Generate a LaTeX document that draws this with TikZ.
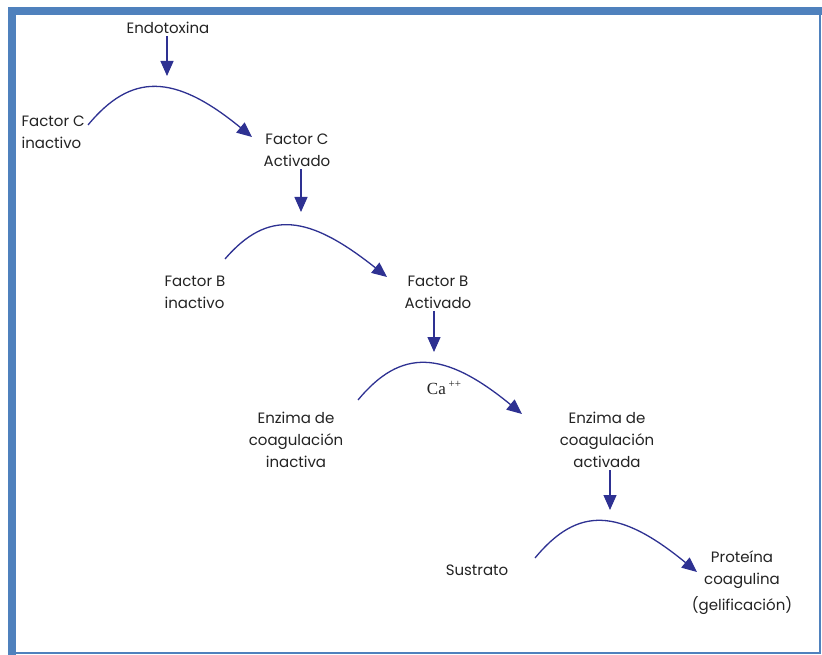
\documentclass[tikz,border=0pt]{standalone}
\usepackage{fontspec}
\usepackage{tikz}
\setmainfont{Poppins}
\newfontfamily\fuenteca{Liberation Serif}
\usetikzlibrary{arrows.meta}

\definecolor{azulmarco}{RGB}{79,129,189}
\definecolor{azulflecha}{RGB}{46,49,146}
\definecolor{texto}{RGB}{35,35,35}

\begin{document}
\begin{tikzpicture}[x=1pt,y=-1pt,>={Triangle[length=15pt,width=13pt]},
	line width=1.3pt,font=\fontsize{15}{22}\selectfont]
	
	\tikzstyle{etiqueta}=[text=texto,inner sep=2pt,align=center]
	\tikzstyle{flecha}=[->,draw=azulflecha,fill=none]
	
	% marco
	\fill[white] (0,0) rectangle (822,655);
	\fill[azulmarco] (8,7) rectangle (822,15);
	\fill[azulmarco] (8,7) rectangle (16,655);
	\fill[azulmarco] (819,7) rectangle (821,654);
	\fill[azulmarco] (8,652) rectangle (821,654);
	
	\node[etiqueta]             (endo) at (168,28)  {Endotoxina};
	\node[etiqueta,anchor=west,align=left] (inC) at (19,132) {Factor C\\inactivo};
	\node[etiqueta]             (actC) at (297,150) {Factor C\\Activado};
	\node[etiqueta,anchor=west,align=left] (inB) at (162,292) {Factor B\\inactivo};
	\node[etiqueta]             (actB) at (438,292) {Factor B\\Activado};
	\node[etiqueta]             (inE)  at (296,440) {Enzima de\\coagulación\\inactiva};
	\node[etiqueta]             (actE) at (607,440) {Enzima de\\coagulación\\activada};
	\node[etiqueta]             (sus)  at (477,570) {Sustrato};
	\node[etiqueta]             (prot) at (742,583) {Proteína\\coagulina\\[4pt](gelificación)};
	\node[etiqueta,font=\fuenteca\fontsize{17}{19}\selectfont] (ca) at (444,388) {Ca\,\raisebox{7pt}{\fontsize{11}{11}\selectfont ++}};
	
	% puntas de las flechas verticales
	\coordinate (t1) at (167,76);
	\coordinate (t2) at (301,212);
	\coordinate (t3) at (434,352);
	\coordinate (t4) at (610,510);
	
	% extremos de los arcos
	\coordinate (s1) at (88,125);  \coordinate (e1) at (252,137);
	\coordinate (s2) at (225,259); \coordinate (e2) at (387,277);
	\coordinate (s3) at (358,400); \coordinate (e3) at (522,414);
	\coordinate (s4) at (535,558); \coordinate (e4) at (697,572);
	
	\draw[flecha] (endo.south -| t1) -- (t1);
	\draw[flecha] (actC.south -| t2) -- (t2);
	\draw[flecha] (actB.south -| t3) -- (t3);
	\draw[flecha] (actE.south -| t4) -- (t4);
	
	\draw[flecha] (s1) .. controls +(43,-52) and +(-78,-64) .. (e1);
	\draw[flecha] (s2) .. controls +(43,-50) and +(-78,-62) .. (e2);
	\draw[flecha] (s3) .. controls +(43,-52) and +(-78,-64) .. (e3);
	\draw[flecha] (s4) .. controls +(43,-52) and +(-78,-64) .. (e4);
\end{tikzpicture}
\end{document}
